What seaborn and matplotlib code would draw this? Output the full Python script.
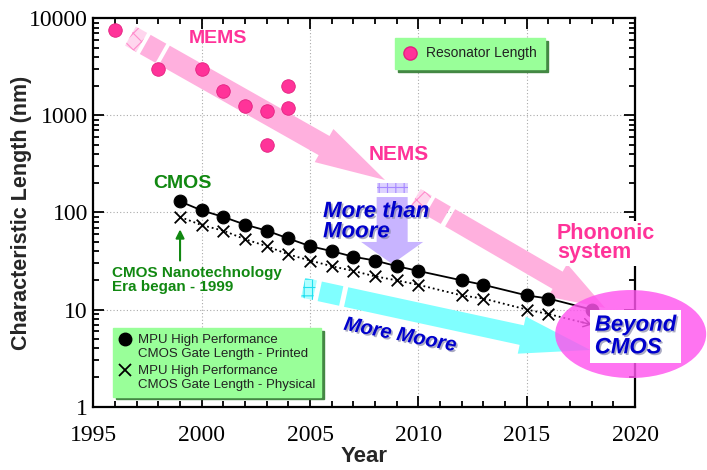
import numpy as np
import pandas as pd
import seaborn as sns
import matplotlib.pyplot as plt
import matplotlib.patheffects as pe
from matplotlib.patches import Polygon, Ellipse
from matplotlib.transforms import IdentityTransform
from matplotlib.lines import Line2D
from matplotlib.legend_handler import HandlerLine2D
from matplotlib.ticker import MultipleLocator, LogLocator, NullFormatter

# MEMS / NEMS resonator lengths
res_years = [1996, 1998, 2000, 2001, 2002, 2003, 2003, 2004, 2004]
res_nm = [7500, 3000, 3000, 1800, 1250, 1100, 500, 2000, 1200]

# ITRS MPU gate lengths
gate_years = [1999, 2000, 2001, 2002, 2003, 2004, 2005, 2006, 2007, 2008,
              2009, 2010, 2012, 2013, 2015, 2016, 2018]
printed_nm = [130, 105, 90, 75, 65, 54, 45, 40, 35, 32, 28, 25, 20, 18, 14, 13, 10]
physical_nm = [90, 74, 65, 53, 45, 37, 32, 28, 25, 22, 20, 18, 14, 13, 10, 9, 7]

x_ticks = [1995, 2000, 2005, 2010, 2015, 2020]
y_ticks = [1, 10, 100, 1000, 10000]
y_tick_labels = ['1', '10', '100', '1000', '10000']

PINK = '#ff3399'
BLUE = '#0000cc'
GREEN = '#118811'

sns.set_style('ticks')
plt.rcParams['font.family'] = ['Liberation Sans', 'DejaVu Sans']
plt.rcParams['hatch.linewidth'] = 0.8

fig = plt.figure(figsize=(7.07, 4.70), dpi=100)
ax = fig.add_axes([0.1321, 0.1347, 0.7661, 0.8264])
ax.set_yscale('log')

df_res = pd.DataFrame({'Year': res_years, 'nm': res_nm})
df_gate = pd.DataFrame({'Year': gate_years, 'printed': printed_nm, 'physical': physical_nm})

# data
sns.scatterplot(data=df_res, x='Year', y='nm', color=PINK, s=95, edgecolor='#e2207f',
                linewidth=0.6, ax=ax, zorder=4, legend=False)
sns.lineplot(data=df_gate, x='Year', y='printed', color='black', lw=1.3, ax=ax,
             zorder=3, legend=False)
sns.scatterplot(data=df_gate, x='Year', y='printed', color='black', s=85,
                edgecolor='black', ax=ax, zorder=4, legend=False)
sns.lineplot(data=df_gate, x='Year', y='physical', color='black', lw=1.3, ls=':',
             ax=ax, zorder=3, legend=False)
sns.scatterplot(data=df_gate.iloc[:-1], x='Year', y='physical', color='black',
                marker='x', s=70, linewidth=1.3, ax=ax, zorder=4, legend=False)
ax.annotate('', xy=(gate_years[-1], physical_nm[-1]),
            xytext=(gate_years[-2], physical_nm[-2]),
            arrowprops=dict(arrowstyle='->,head_length=0.5,head_width=0.3',
                            color='black', lw=1.0, shrinkA=24, shrinkB=0),
            zorder=3)

ax.set_xlim(1995, 2020)
ax.set_ylim(1, 10000)
ax.set_xticks(x_ticks)
ax.set_xticklabels([str(t) for t in x_ticks])
ax.xaxis.set_minor_locator(MultipleLocator(1))
ax.set_yticks(y_ticks)
ax.set_yticklabels(y_tick_labels)
ax.yaxis.set_minor_locator(LogLocator(base=10, subs=np.arange(2, 10)))
ax.yaxis.set_minor_formatter(NullFormatter())
ax.tick_params(which='both', direction='in', top=True, right=True, width=1.3,
               color='black')
ax.tick_params(which='major', length=8, labelsize=17,
               labelfontfamily='Liberation Serif', labelcolor='black')
ax.tick_params(which='minor', length=4.5)
ax.tick_params(axis='x', which='major', pad=13)
ax.tick_params(axis='y', which='major', pad=4)
for s in ax.spines.values():
    s.set_linewidth(1.6)
    s.set_color('black')
ax.grid(True, which='major', color='#aaaaaa', ls=(0, (1, 2)), lw=0.8)
ax.set_axisbelow(True)

ax.set_xlabel('Year', fontsize=16, fontweight='bold')
ax.set_ylabel('Characteristic Length (nm)', fontsize=15.5, fontweight='bold')
ax.xaxis.set_label_coords(0.5, -0.1)
ax.yaxis.set_label_coords(-0.113, 0.5)


def dashed_arrow(start, tip, hatch_cut, solid_cut, band_from, tail_w, head_w, head_l,
                 color, hatch_face, hatch_color, hatch):
    """Broad arrow drawn in pixels between two data points, with a dashed tail."""
    p0 = ax.transData.transform(start)
    p1 = ax.transData.transform(tip)
    d = p1 - p0
    L = np.hypot(*d)
    u = d / L
    n = np.array([-u[1], u[0]])
    ident = IdentityTransform()

    def rect(a, b, w):
        return [p0 + u * a + n * w / 2, p0 + u * b + n * w / 2,
                p0 + u * b - n * w / 2, p0 + u * a - n * w / 2]

    ax.add_patch(Polygon(rect(*hatch_cut, tail_w), closed=True, transform=ident,
                         facecolor=hatch_face, edgecolor=hatch_color, hatch=hatch,
                         lw=0, zorder=1))
    if solid_cut is not None:
        ax.add_patch(Polygon(rect(*solid_cut, tail_w), closed=True, transform=ident,
                             facecolor=color, lw=0, zorder=1))
    hb = L - head_l
    pts = [p0 + u * band_from + n * tail_w / 2, p0 + u * hb + n * tail_w / 2,
           p0 + u * hb + n * head_w / 2, p1,
           p0 + u * hb - n * head_w / 2, p0 + u * hb - n * tail_w / 2,
           p0 + u * band_from - n * tail_w / 2]
    ax.add_patch(Polygon(pts, closed=True, transform=ident, facecolor=color,
                         lw=0, zorder=1))


# MEMS trend
dashed_arrow((1996.71, 6560), (2008.46, 216), (0, 13), (17, 35), 39, 22, 38, 70,
             '#ffb0de', '#ffd6ee', '#ff8ccc', 'xx')
# towards phononic / beyond CMOS
dashed_arrow((2009.87, 142), (2018.62, 10.4), (0, 13), (17, 35), 40, 20, 38, 55,
             '#ffb0de', '#ffd6ee', '#ff8ccc', 'xx')
# More Moore
dashed_arrow((2004.68, 16.8), (2017.93, 3.84), (0, 12), (17, 39), 44, 20, 38, 70,
             '#80ffff', '#b0ffff', '#22e0f0', '++')
# More than Moore
dashed_arrow((2008.79, 201), (2008.79, 29.5), (0, 10), None, 14, 31, 62, 22,
             '#c8b4ff', '#ddd2ff', '#a688ff', '++')

# Beyond CMOS bubble
c = ax.transData.transform((2019.8, 5.6))
ax.add_patch(Ellipse(c, 151, 88, transform=IdentityTransform(), facecolor='#ff55ee',
                     alpha=0.82, lw=0, zorder=6, clip_on=False))

shadow = [pe.withSimplePatchShadow(offset=(1.2, -1.2), shadow_rgbFace='#8888aa', alpha=0.7)]

ax.text(2000.73, 6200, 'MEMS', color=PINK, fontsize=14, fontweight='bold',
        ha='center', va='center', zorder=5)
ax.text(2009.09, 395, 'NEMS', color=PINK, fontsize=15, fontweight='bold',
        ha='center', va='center', zorder=5)
ax.text(1999.09, 199, 'CMOS', color=GREEN, fontsize=14, fontweight='bold',
        ha='center', va='center', zorder=5)
ax.text(2005.6, 131, 'More than\nMoore', color=BLUE, fontsize=16, fontweight='bold',
        style='italic', ha='left', va='top', linespacing=0.95, zorder=5,
        path_effects=shadow)
ax.text(2016.4, 78, 'Phononic\nsystem', color=PINK, fontsize=15.5, fontweight='bold',
        ha='left', va='top', linespacing=0.9, zorder=7,
        bbox=dict(boxstyle='square,pad=0.1', fc='white', ec='none'))
ax.text(2009.16, 5.47, 'More Moore', color=BLUE, fontsize=14.5, fontweight='bold',
        style='italic', ha='center', va='center', rotation=-11,
        rotation_mode='anchor', zorder=5, path_effects=shadow)
ax.text(1995.86, 28.1, 'CMOS Nanotechnology\nEra began - 1999', color=GREEN,
        fontsize=11, fontweight='bold', ha='left', va='top', linespacing=1.0, zorder=5)
ax.annotate('', xy=(1999, 67), xytext=(1999, 32),
            arrowprops=dict(arrowstyle='-|>,head_length=0.5,head_width=0.25',
                            color=GREEN, lw=1.5, shrinkA=0, shrinkB=0), zorder=5)
ax.text(2020.03, 5.28, 'Beyond\nCMOS', color=BLUE, fontsize=16, fontweight='bold',
        style='italic', ha='center', va='center', multialignment='left',
        linespacing=1.1, zorder=7, path_effects=shadow,
        bbox=dict(boxstyle='square,pad=0.2', fc='white', ec='none'))


class FirstLineHandler(HandlerLine2D):
    """Put the legend marker beside the first line of a two-line label."""
    def create_artists(self, legend, orig_handle, xdescent, ydescent, width, height,
                       fontsize, trans):
        arts = super().create_artists(legend, orig_handle, xdescent, ydescent,
                                      width, height, fontsize, trans)
        for a in arts:
            a.set_ydata(np.asarray(a.get_ydata()) + 0.58 * fontsize)
        return arts


leg_style = dict(frameon=True, fancybox=False, framealpha=1, facecolor='#99ff99',
                 edgecolor='#99ff99', shadow={'color': '#448844', 'alpha': 1},
                 borderaxespad=0)

h_res = Line2D([], [], ls='none', marker='o', markersize=9.5, markerfacecolor=PINK,
               markeredgecolor='#e2207f')
leg1 = ax.legend([h_res], ['Resonator Length'], loc='upper left',
                 bbox_to_anchor=(0.557, 0.949), fontsize=10, handlelength=1.0,
                 handletextpad=0.6, borderpad=0.6, **leg_style)
leg1.set_zorder(8)
ax.add_artist(leg1)

h_pr = Line2D([], [], ls='none', marker='o', markersize=9, color='black')
h_ph = Line2D([], [], ls='none', marker='x', markersize=9, mew=1.3, color='black')
leg2 = ax.legend([h_pr, h_ph],
                 ['MPU High Performance\nCMOS Gate Length - Printed',
                  'MPU High Performance\nCMOS Gate Length - Physical'],
                 loc='lower left', bbox_to_anchor=(0.037, 0.026), fontsize=9.5,
                 handlelength=0.9, handletextpad=0.5, borderpad=0.45,
                 labelspacing=0.4, handler_map={Line2D: FirstLineHandler()},
                 **leg_style)
leg2.set_zorder(8)
for t in list(leg1.get_texts()) + list(leg2.get_texts()):
    t.set_color('#222222')

fig.savefig('out.png', dpi=100)
